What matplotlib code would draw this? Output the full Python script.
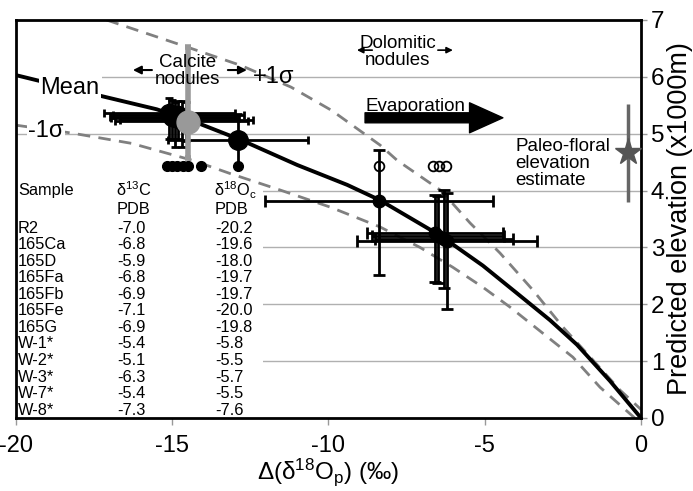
import matplotlib
matplotlib.use('Agg')
import matplotlib.pyplot as plt
from matplotlib.patches import Rectangle

plt.rcParams['font.family'] = ['Liberation Sans', 'DejaVu Sans']
plt.rcParams['mathtext.fontset'] = 'custom'
plt.rcParams['mathtext.rm'] = 'Liberation Sans'
plt.rcParams['mathtext.it'] = 'Liberation Sans:italic'
plt.rcParams['mathtext.default'] = 'regular'
plt.rcParams['axes.unicode_minus'] = False

# model curves: elevation (x1000 m) vs delta(d18Op)
mean_x = [-20, -17.25, -15.5, -14.1, -12.8, -11.0, -9.4, -8.35, -7.7, -6.4, -5.06, -3.87, -2.91, -2.05, -0.99, 0]
mean_y = [6.03, 5.66, 5.43, 5.17, 4.89, 4.45, 4.10, 3.83, 3.62, 3.2, 2.68, 2.15, 1.72, 1.29, 0.65, 0]
upper_x = [-17.1, -14.5, -12.8, -11.2, -9.9, -8.35, -7.8, -6.4, -5.47, -4.51, -3.46, -2.5, -1.54, -0.67, 0]
upper_y = [7.0, 6.52, 6.2, 5.82, 5.41, 4.8, 4.53, 4.0, 3.43, 2.90, 2.25, 1.60, 1.02, 0.49, 0.15]
lower_x = [-20, -18.2, -16.3, -14.34, -13.15, -11.55, -9.95, -8.35, -7.07, -6.02, -5.06, -4.19, -3.14, -2.18, -1.31, -0.2]
lower_y = [5.15, 5.01, 4.83, 4.53, 4.30, 4.01, 3.71, 3.36, 3.0, 2.65, 2.30, 1.95, 1.49, 1.07, 0.54, 0.0]

# calcite nodules
calc_x = [-15.1, -15.0, -14.9, -14.8, -14.7, -14.55]
calc_y = [5.36, 5.30, 5.27, 5.33, 5.22, 5.25]
calc_xerr = [2.1, 2.0, 2.05, 2.1, 2.12, 2.13]
calc_yerr_lo = [0.45, 0.4, 0.5, 0.42, 0.45, 0.38]
calc_yerr_hi = [0.26, 0.3, 0.28, 0.25, 0.35, 0.3]
d_x = [-12.9]
d_y = [4.89]
d_xerr = [2.24]
d_yerr_lo = [0.46]
d_yerr_hi = [0.45]
calc_mean_x = [-14.5]
calc_mean_y = [5.2]
calc_mean_lo = [0.63]
calc_mean_hi = [1.32]
dot_x = [-15.17, -15.01, -14.85, -14.66, -14.5, -14.08, -12.9]
dot_y = [4.44, 4.44, 4.44, 4.44, 4.44, 4.44, 4.44]

# dolomitic nodules
dol_x = [-8.38, -6.6, -6.5, -6.3, -6.22]
dol_y = [3.82, 3.26, 3.20, 3.15, 3.12]
dol_xerr = [3.65, 2.17, 2.12, 2.2, 2.88]
dol_yerr_lo = [1.31, 0.87, 0.82, 0.87, 1.2]
dol_yerr_hi = [0.89, 0.66, 0.7, 0.86, 0.83]
open_x = [-8.38, -6.65, -6.45, -6.25]
open_y = [4.44, 4.44, 4.44, 4.44]

# paleo-floral estimate
flora_x = [-0.41]
flora_y = [4.68]
flora_lo = [0.88]
flora_hi = [0.85]

# table
samples = ['R2', '165Ca', '165D', '165Fa', '165Fb', '165Fe', '165G',
           'W-1*', 'W-2*', 'W-3*', 'W-7*', 'W-8*']
d13c = ['-7.0', '-6.8', '-5.9', '-6.8', '-6.9', '-7.1', '-6.9',
        '-5.4', '-5.1', '-6.3', '-5.4', '-7.3']
d18oc = ['-20.2', '-19.6', '-18.0', '-19.7', '-19.7', '-20.0', '-19.8',
         '-5.8', '-5.5', '-5.7', '-5.5', '-7.6']

fig = plt.figure(figsize=(6.93, 4.91), dpi=100)
ax = fig.add_axes([16/693, 73/491, 625/693, 398/491])

ax.set_xlim(-20, 0)
ax.set_ylim(0, 7)
ax.set_xticks([-20, -15, -10, -5, 0])
ax.set_yticks(range(8))
ax.yaxis.tick_right()
ax.yaxis.set_label_position('right')
ax.set_axisbelow(True)
ax.yaxis.grid(True, color='#b0b0b0', lw=1)
for s in ax.spines.values():
    s.set_linewidth(2)
ax.tick_params(axis='x', length=5, width=1, color='#999999', labelsize=17, pad=7)
ax.tick_params(axis='y', length=4, width=1, color='#999999', labelsize=17.5, pad=3)

# white area behind table and labels
ax.add_patch(Rectangle((-20, 0), 7.9, 4.12, fc='white', ec='none', zorder=1))
ax.add_patch(Rectangle((-20, 5.6), 2.75, 0.55, fc='white', ec='none', zorder=1))

ax.plot(upper_x, upper_y, color='#808080', lw=2, dashes=(4.5, 3), zorder=2)
ax.plot(lower_x, lower_y, color='#808080', lw=2, dashes=(4.5, 3), zorder=2)
ax.plot(mean_x, mean_y, color='black', lw=2.8, zorder=3)

ax.errorbar(calc_x, calc_y, xerr=calc_xerr, yerr=[calc_yerr_lo, calc_yerr_hi],
            fmt='o', color='black', ms=13, elinewidth=2, capsize=3, capthick=2, zorder=4)
ax.errorbar(d_x, d_y, xerr=d_xerr, yerr=[d_yerr_lo, d_yerr_hi],
            fmt='o', color='black', ms=14, elinewidth=2, capsize=3, capthick=2, zorder=4)
ax.plot(dot_x, dot_y, 'o', color='black', ms=7, zorder=4)
ax.errorbar(calc_mean_x, calc_mean_y, yerr=[calc_mean_lo, calc_mean_hi],
            fmt='o', color='#999999', ms=16.5, elinewidth=4, capsize=2, capthick=4, zorder=5)

ax.errorbar(dol_x, dol_y, xerr=dol_xerr, yerr=[dol_yerr_lo, dol_yerr_hi],
            fmt='o', color='black', ms=9, elinewidth=2, capsize=4, capthick=2, zorder=4)
ax.plot(open_x, open_y, 'o', mfc='none', mec='black', mew=1.3, ms=7, zorder=6)

ax.errorbar(flora_x, flora_y, yerr=[flora_lo, flora_hi], fmt='*', color='#555555',
            ecolor='#666666', ms=20, elinewidth=2.5, capsize=0, zorder=5)

# labels
ax.text(-19.23, 5.80, 'Mean', fontsize=17, va='center', ha='left',
        bbox=dict(fc='white', ec='none', pad=1), zorder=6)
ax.text(-19.6, 5.05, '-1σ', fontsize=17, va='center',
        bbox=dict(fc='white', ec='none', pad=1), zorder=6)
ax.text(-12.42, 6.0, '+1σ', fontsize=17, va='center', zorder=6)
ax.text(-14.5, 6.10, 'Calcite\nnodules', ha='center', va='center', fontsize=13.5,
        linespacing=0.95, zorder=6)
ax.text(-7.78, 6.44, 'Dolomitic\nnodules', ha='center', va='center', fontsize=13.5,
        linespacing=0.95, zorder=6)
ax.text(-8.83, 5.47, 'Evaporation', fontsize=13.5, va='center', zorder=6)
ax.text(-4.03, 4.47, 'Paleo-floral\nelevation\nestimate', fontsize=13.5, va='center',
        linespacing=1.0, zorder=6)

arr = dict(arrowstyle='-|>', color='black', lw=1.5, mutation_scale=12, shrinkA=0, shrinkB=0)
ax.annotate('', xy=(-16.26, 6.12), xytext=(-15.65, 6.12), arrowprops=arr)
ax.annotate('', xy=(-12.61, 6.12), xytext=(-13.22, 6.12), arrowprops=arr)
arr2 = dict(arrowstyle='-|>', color='black', lw=1.2, mutation_scale=9, shrinkA=0, shrinkB=0)
ax.annotate('', xy=(-9.09, 6.47), xytext=(-8.6, 6.47), arrowprops=arr2)
ax.annotate('', xy=(-6.02, 6.47), xytext=(-6.5, 6.47), arrowprops=arr2)
ax.annotate('', xy=(-4.42, 5.28), xytext=(-8.83, 5.28),
            arrowprops=dict(arrowstyle='simple,head_length=2.4,head_width=2.16,tail_width=0.72',
                            fc='black', ec='black', mutation_scale=10, shrinkA=0, shrinkB=0))

# sample table
tfs = 11.8
ax.text(-19.94, 4.01, 'Sample', fontsize=tfs, va='center', zorder=6)
ax.text(-16.8, 4.01, 'δ$^{13}$C', fontsize=tfs, va='center', zorder=6)
ax.text(-13.65, 4.01, 'δ$^{18}$O$_{c}$', fontsize=tfs, va='center', zorder=6)
ax.text(-16.77, 3.66, 'PDB', fontsize=tfs, va='center', zorder=6)
ax.text(-13.63, 3.66, 'PDB', fontsize=tfs, va='center', zorder=6)
for i in range(len(samples)):
    yy = 3.34 - i * 0.291
    ax.text(-19.94, yy, samples[i], fontsize=tfs, va='center', zorder=6)
    ax.text(-16.77, yy, d13c[i], fontsize=tfs, va='center', zorder=6)
    ax.text(-13.63, yy, d18oc[i], fontsize=tfs, va='center', zorder=6)

ax.set_xlabel('Δ(δ$^{18}$O$_{p}$) (‰)', fontsize=17.5, labelpad=0)
ax.set_ylabel('Predicted elevation (x1000m)', fontsize=19.5, labelpad=2)

fig.savefig('out.png', dpi=100)
